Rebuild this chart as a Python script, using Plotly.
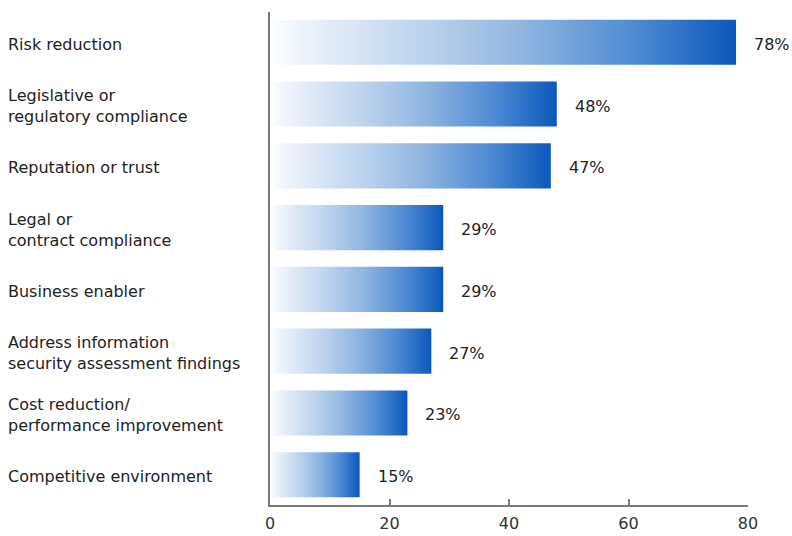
import plotly.graph_objects as go

# Survey results: drivers for the programme (share of respondents, %)
categories = [
    "Risk reduction",
    "Legislative or<br>regulatory compliance",
    "Reputation or trust",
    "Legal or<br>contract compliance",
    "Business enabler",
    "Address information<br>security assessment findings",
    "Cost reduction/<br>performance improvement",
    "Competitive environment",
]
values = [78, 48, 47, 29, 29, 27, 23, 15]
value_labels = ["78%", "48%", "47%", "29%", "29%", "27%", "23%", "15%"]
x_ticks = [0, 20, 40, 60, 80]

BAR_HEIGHT = 0.73
FONT = "DejaVu Sans, Verdana, sans-serif"
GRADIENT = [
    [0.0, "#ffffff"],
    [0.06, "#eef4fb"],
    [0.35, "#b8d0ec"],
    [0.55, "#8db4e0"],
    [0.78, "#4f8bd4"],
    [1.0, "#0a58bb"],
]

fig = go.Figure()

# Each bar is a filled rectangle so it can carry a left-to-right gradient
for i, v in enumerate(values):
    y0, y1 = i - BAR_HEIGHT / 2, i + BAR_HEIGHT / 2
    fig.add_trace(go.Scatter(
        x=[0, v, v, 0, 0],
        y=[y0, y0, y1, y1, y0],
        mode="lines",
        fill="toself",
        fillgradient=dict(type="horizontal", colorscale=GRADIENT),
        line=dict(width=0, color="rgba(0,0,0,0)"),
        hoverinfo="skip",
        showlegend=False,
    ))

annotations = []
for i, (cat, v, lab) in enumerate(zip(categories, values, value_labels)):
    # Category label, left aligned at the page edge
    annotations.append(dict(
        x=0, xref="paper", xshift=-264, xanchor="left",
        y=i, yref="y", yanchor="middle", yshift=-2,
        text=cat, align="left", showarrow=False,
        font=dict(family=FONT, size=16, color="#222222"),
    ))
    # Value label to the right of the bar
    annotations.append(dict(
        x=v, xref="x", xshift=16, xanchor="left",
        y=i, yref="y", yanchor="middle", yshift=-2,
        text=lab, showarrow=False,
        font=dict(family=FONT, size=16, color="#222222"),
    ))

fig.update_layout(
    width=792, height=536,
    margin=dict(l=270, r=44, t=12, b=31),
    paper_bgcolor="white",
    plot_bgcolor="white",
    annotations=annotations,
    xaxis=dict(
        range=[0, 80],
        tickvals=x_ticks,
        ticks="inside", ticklen=6, tickwidth=2, tickcolor="#7a7a7a",
        ticklabelstandoff=3,
        automargin=False,
        showline=True, linecolor="#7a7a7a", linewidth=2,
        showgrid=False, zeroline=False,
        tickfont=dict(family=FONT, size=16, color="#333333"),
    ),
    yaxis=dict(
        range=[len(values) - 1 + 0.49, -0.49],
        showticklabels=False, ticks="",
        automargin=False,
        showline=True, linecolor="#7a7a7a", linewidth=2,
        showgrid=False, zeroline=False,
    ),
)

fig.write_html("out.html")
